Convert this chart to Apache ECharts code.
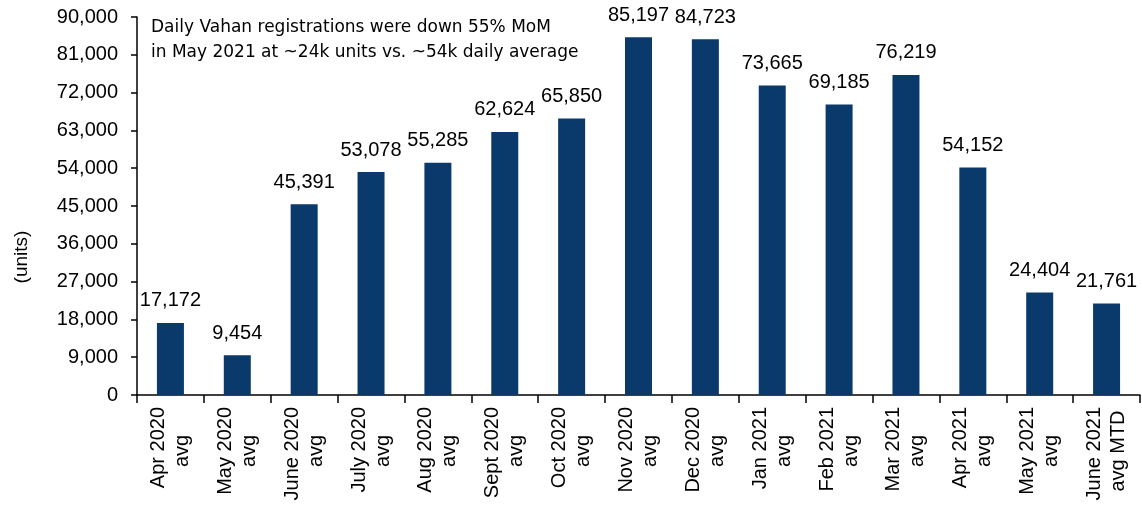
<!DOCTYPE html>
<html>
<head>
<meta charset="utf-8">
<script src="https://cdn.jsdelivr.net/npm/echarts@6/dist/echarts.min.js"></script>
<style>
  html, body { margin: 0; padding: 0; background: #fff; }
  #main { width: 1142px; height: 509px; }
</style>
</head>
<body>
<div id="main"></div>
<script>
// categories (two lines each) and monthly daily-average registrations
var categories = ['Apr 2020\navg', 'May 2020\navg', 'June 2020\navg', 'July 2020\navg',
  'Aug 2020\navg', 'Sept 2020\navg', 'Oct 2020\navg', 'Nov 2020\navg', 'Dec 2020\navg',
  'Jan 2021\navg', 'Feb 2021\navg', 'Mar 2021\navg', 'Apr 2021\navg', 'May 2021\navg',
  'June 2021\navg MTD'];
var registrations = [17172, 9454, 45391, 53078, 55285, 62624, 65850, 85197, 84723,
  73665, 69185, 76219, 54152, 24404, 21761];
var yTicks = { min: 0, max: 90000, interval: 9000 };
var note = 'Daily Vahan registrations were down 55% MoM\nin May 2021 at ~24k units vs. ~54k daily average';

var FONT = "'Liberation Sans', Arial, sans-serif";
var LABEL_SIZE = 20;
var fmt = function (v) { return Number(v).toLocaleString('en-US'); };
var line = function (n) { return function (v) { return v.split('\n')[n]; }; };

// rotated labels: first line hangs from the axis, second line is centred under it.
// two label rows on the same axis so each row can be placed on its own.
var labelBase = {
  interval: 0,
  rotate: 90,
  fontSize: LABEL_SIZE,
  lineHeight: 24,
  fontFamily: FONT,
  color: '#000'
};

var myChart = echarts.init(document.getElementById('main'));
myChart.setOption({
  animation: false,
  title: {
    text: note,
    left: 146,
    top: 10,
    textStyle: {
      fontFamily: "'DejaVu Sans', sans-serif",
      fontWeight: 'normal',
      fontSize: 17,
      lineHeight: 25,
      color: '#000'
    }
  },
  graphic: [{
    type: 'text',
    x: 22,
    y: 257,
    rotation: Math.PI / 2,
    style: {
      text: '(units)',
      font: '19px ' + FONT,
      fill: '#000',
      textAlign: 'center',
      textVerticalAlign: 'middle'
    }
  }],
  grid: { left: 137, right: 2, top: 17, bottom: 114, outerBoundsMode: 'none' },
  xAxis: [{
    type: 'category',
    position: 'bottom',
    data: categories,
    axisLine: { lineStyle: { color: '#000', width: 1.5 } },
    axisTick: { show: true, alignWithLabel: false, length: 8, lineStyle: { color: '#000', width: 1.5 } },
    axisLabel: Object.assign({}, labelBase, {
      align: 'right',
      verticalAlign: 'bottom',
      margin: 12,
      formatter: line(0)
    })
  }, {
    type: 'category',
    position: 'bottom',
    data: categories,
    axisLine: { show: false },
    axisTick: { show: false },
    splitLine: { show: false },
    axisLabel: Object.assign({}, labelBase, {
      align: 'center',
      verticalAlign: 'top',
      margin: 56,
      formatter: line(1)
    })
  }],
  yAxis: {
    type: 'value',
    min: yTicks.min,
    max: yTicks.max,
    interval: yTicks.interval,
    splitLine: { show: false },
    axisLine: { show: true, lineStyle: { color: '#000', width: 1.5 } },
    axisTick: { show: true, length: 6, lineStyle: { color: '#000', width: 1.5 } },
    axisLabel: {
      margin: 19,
      fontSize: 20,
      fontFamily: FONT,
      color: '#000',
      formatter: fmt
    }
  },
  series: [{
    type: 'bar',
    xAxisIndex: 0,
    data: registrations,
    barWidth: 27,
    itemStyle: { color: '#0a3a6b' },
    label: {
      show: true,
      position: 'top',
      distance: 12,
      fontSize: 20,
      fontFamily: FONT,
      color: '#000',
      formatter: function (p) { return fmt(p.value); }
    }
  }]
});
</script>
</body>
</html>
